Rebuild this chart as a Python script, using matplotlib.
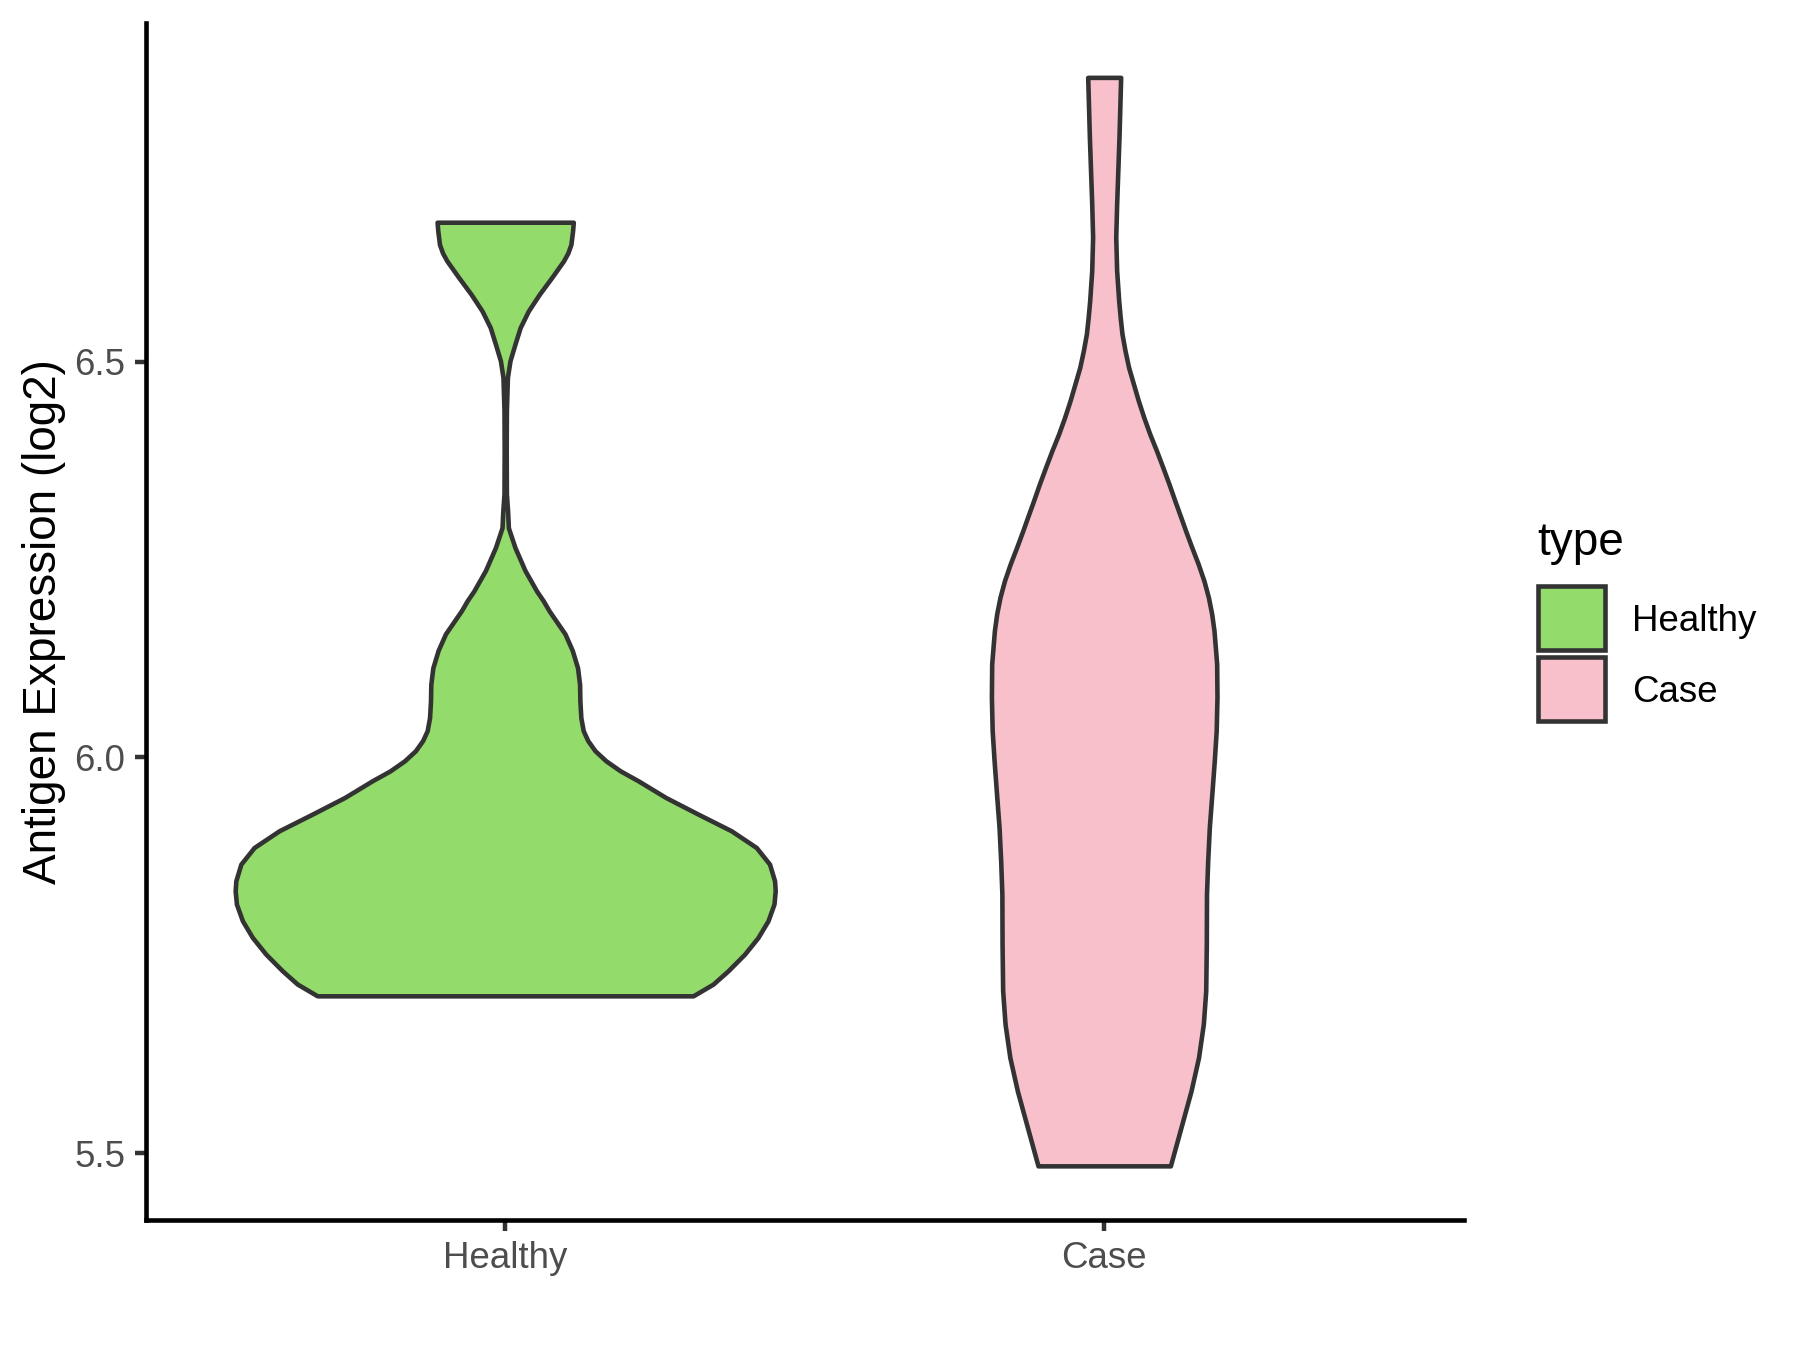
import matplotlib
matplotlib.use("Agg")
import matplotlib.pyplot as plt
from matplotlib.patches import Rectangle

plt.rcParams['font.family'] = ['Liberation Sans', 'DejaVu Sans']

# ---- data (violin outlines: y value, half-width in category units)
categories = ["Healthy", "Case"]
fill_colors = ["#93DB6B", "#F7C0CB"]
edge_color = "#333333"

healthy_y = [6.676, 6.665, 6.648, 6.637, 6.627, 6.606, 6.585, 6.564, 6.543, 6.522, 6.501,
             6.480, 6.438, 6.387, 6.333, 6.311, 6.290, 6.265, 6.236, 6.210, 6.198,
             6.185, 6.156, 6.135, 6.113, 6.092, 6.071, 6.050, 6.0335, 6.0209, 6.0082,
             5.9956, 5.9829, 5.9703, 5.9492, 5.9282, 5.9071, 5.8860, 5.8650, 5.8439,
             5.8313, 5.8145, 5.7934, 5.7723, 5.7513, 5.7302, 5.7134, 5.6986]
healthy_w = [0.1137, 0.1125, 0.1097, 0.1045, 0.0972, 0.0775, 0.0570, 0.0387, 0.0250, 0.0163, 0.0080,
             0.0037, 0.0020, 0.0017, 0.0020, 0.0040, 0.0053, 0.0163, 0.0330, 0.0525, 0.0633,
             0.0733, 0.0997, 0.1120, 0.1208, 0.1242, 0.1247, 0.1263, 0.1303, 0.1380, 0.1500,
             0.1680, 0.1920, 0.2220, 0.2680, 0.3220, 0.3775, 0.4192, 0.4413, 0.4497,
             0.4508, 0.4487, 0.4387, 0.4220, 0.3997, 0.3720, 0.3470, 0.3137]

case_y = [6.859, 6.783, 6.699, 6.657, 6.615, 6.577, 6.556, 6.535, 6.514, 6.4925, 6.472,
          6.4505, 6.429, 6.408, 6.387, 6.366, 6.345, 6.324, 6.303, 6.286, 6.265,
          6.244, 6.223, 6.202, 6.181, 6.160, 6.118, 6.0756, 6.0335, 5.9956,
          5.9535, 5.9113, 5.8692, 5.8271, 5.7643, 5.7049, 5.6629, 5.6207, 5.5786, 5.5365,
          5.4838]
case_w = [0.0275, 0.0247, 0.0208, 0.0193, 0.0208, 0.0242, 0.0267, 0.0297, 0.0347, 0.0408, 0.0487,
          0.0570, 0.0663, 0.0763, 0.0875, 0.0980, 0.1083, 0.1180, 0.1280, 0.1360, 0.1463,
          0.1570, 0.1665, 0.1740, 0.1795, 0.1833, 0.1878, 0.1883, 0.1870, 0.1838,
          0.1797, 0.1755, 0.1728, 0.1708, 0.1705, 0.1695, 0.1655, 0.1575, 0.1450, 0.1297,
          0.1105]

y_ticks = [5.5, 6.0, 6.5]
y_tick_labels = ["5.5", "6.0", "6.5"]
y_label = "Antigen Expression (log2)"
legend_title = "type"

profiles = [(healthy_y, healthy_w), (case_y, case_w)]

fig = plt.figure(figsize=(6, 4.5), dpi=300)
ax = fig.add_axes([0.081, 0.0961, 0.7321, 0.8869])

for i, ((ys, ws), col) in enumerate(zip(profiles, fill_colors)):
    pos = i + 1
    left = [pos - w for w in ws]
    right = [pos + w for w in ws]
    ax.fill_betweenx(ys, left, right, facecolor=col, edgecolor=edge_color,
                     linewidth=1.1, joinstyle='round', zorder=2)

all_y = healthy_y + case_y
lo, hi = min(all_y), max(all_y)
pad = (hi - lo) * 0.05
ax.set_ylim(lo - pad, hi + pad)
ax.set_xlim(0.4, 2.6)

ax.set_xticks([1, 2])
ax.set_xticklabels(categories)
ax.set_yticks(y_ticks)
ax.set_yticklabels(y_tick_labels)

for s in ["top", "right"]:
    ax.spines[s].set_visible(False)
for s in ["left", "bottom"]:
    ax.spines[s].set_color("black")
    ax.spines[s].set_linewidth(1.1)

ax.tick_params(axis="both", length=2.75, width=1.07, color="#333333",
               labelsize=8.8, labelcolor="#4D4D4D", pad=2.2)

ax.set_ylabel(y_label, fontsize=11, color="black")
ax.yaxis.set_label_coords(-0.0606, 0.5)

# ---- legend drawn in figure pixel space
lax = fig.add_axes([0, 0, 1, 1])
lax.set_xlim(0, 1800)
lax.set_ylim(1350, 0)
lax.axis("off")
lax.text(1537, 555, legend_title, fontsize=11, color="black", va="baseline", ha="left")
key_tops = [586, 657]
for cat, col, top in zip(categories, fill_colors, key_tops):
    lax.add_patch(Rectangle((1538, top), 67, 64, facecolor=col, edgecolor=edge_color,
                            linewidth=1.1))
    lax.text(1632, top + 45, cat, fontsize=8.8, color="black", va="baseline", ha="left")

fig.savefig("out.png", dpi=300)
